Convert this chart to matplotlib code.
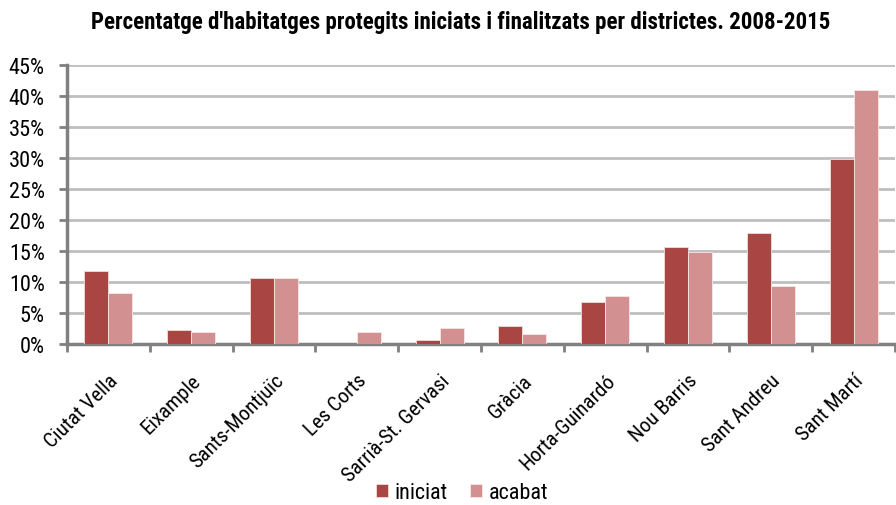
import matplotlib
matplotlib.use("Agg")
import matplotlib.pyplot as plt
import numpy as np
from matplotlib.ticker import PercentFormatter, FixedLocator

plt.rcParams['font.family'] = ['Liberation Sans Narrow', 'Roboto Condensed', 'Archivo Narrow',
                               'Liberation Sans', 'DejaVu Sans']

districtes = ["Ciutat Vella", "Eixample", "Sants-Montjuïc", "Les Corts", "Sarrià-St. Gervasi",
              "Gràcia", "Horta-Guinardó", "Nou Barris", "Sant Andreu", "Sant Martí"]
iniciat = [11.7, 2.3, 10.7, 0.0, 0.6, 2.9, 6.8, 15.6, 17.9, 29.9]
acabat = [8.2, 1.9, 10.7, 2.0, 2.6, 1.6, 7.7, 14.9, 9.3, 40.9]
serie_noms = ["iniciat", "acabat"]
yticks = [0, 5, 10, 15, 20, 25, 30, 35, 40, 45]
titol = "Percentatge d'habitatges protegits iniciats i finalitzats per districtes. 2008-2015"

c_ini = "#A94644"
c_aca = "#D29190"
grid_c = "#BFBFBF"
spine_c = "#808080"

fig = plt.figure(figsize=(8.96, 5.06), dpi=100)
ax = fig.add_axes([67/896, 1-345/506, (895-67)/896, (345-66)/506])

x = np.arange(len(districtes))
w = 0.29
ax.bar(x - w/2, iniciat, w, color=c_ini, edgecolor="#F2DCDB", linewidth=0.6, label=serie_noms[0], zorder=3)
ax.bar(x + w/2, acabat, w, color=c_aca, edgecolor="#F7E6E6", linewidth=0.6, label=serie_noms[1], zorder=3)

ax.set_xlim(-0.5, len(districtes) - 0.5)
ax.set_ylim(0, 45)
ax.set_yticks(yticks)
ax.yaxis.set_major_formatter(PercentFormatter(decimals=0))
ax.grid(axis="y", color=grid_c, linewidth=2, zorder=0)
ax.set_axisbelow(True)

ax.xaxis.set_major_locator(FixedLocator(np.arange(len(districtes) + 1) - 0.5))
ax.xaxis.set_minor_locator(FixedLocator(x))
ax.set_xticklabels([])
ax.set_xticklabels(districtes, minor=True, rotation=45, ha="right", rotation_mode="anchor", fontsize=15)
ax.tick_params(axis="x", which="major", length=6, width=2, color=spine_c, direction="out")
ax.tick_params(axis="x", which="minor", length=0, pad=19)
ax.tick_params(axis="y", length=6, width=2, color=spine_c, labelsize=16, pad=10)

for s in ["top", "right"]:
    ax.spines[s].set_visible(False)
for s in ["left", "bottom"]:
    ax.spines[s].set_color(spine_c)
    ax.spines[s].set_linewidth(2.5)

fig.text(461/896, 1-22/506, titol, ha="center", va="center", fontsize=16.5, fontweight="bold")

leg = fig.legend(loc="center", bbox_to_anchor=(462/896, 1-494/506), ncol=2, frameon=False,
                 fontsize=16, handlelength=0.55, handleheight=0.55, handletextpad=0.3, columnspacing=1.0)

fig.savefig("out.png", dpi=100)
